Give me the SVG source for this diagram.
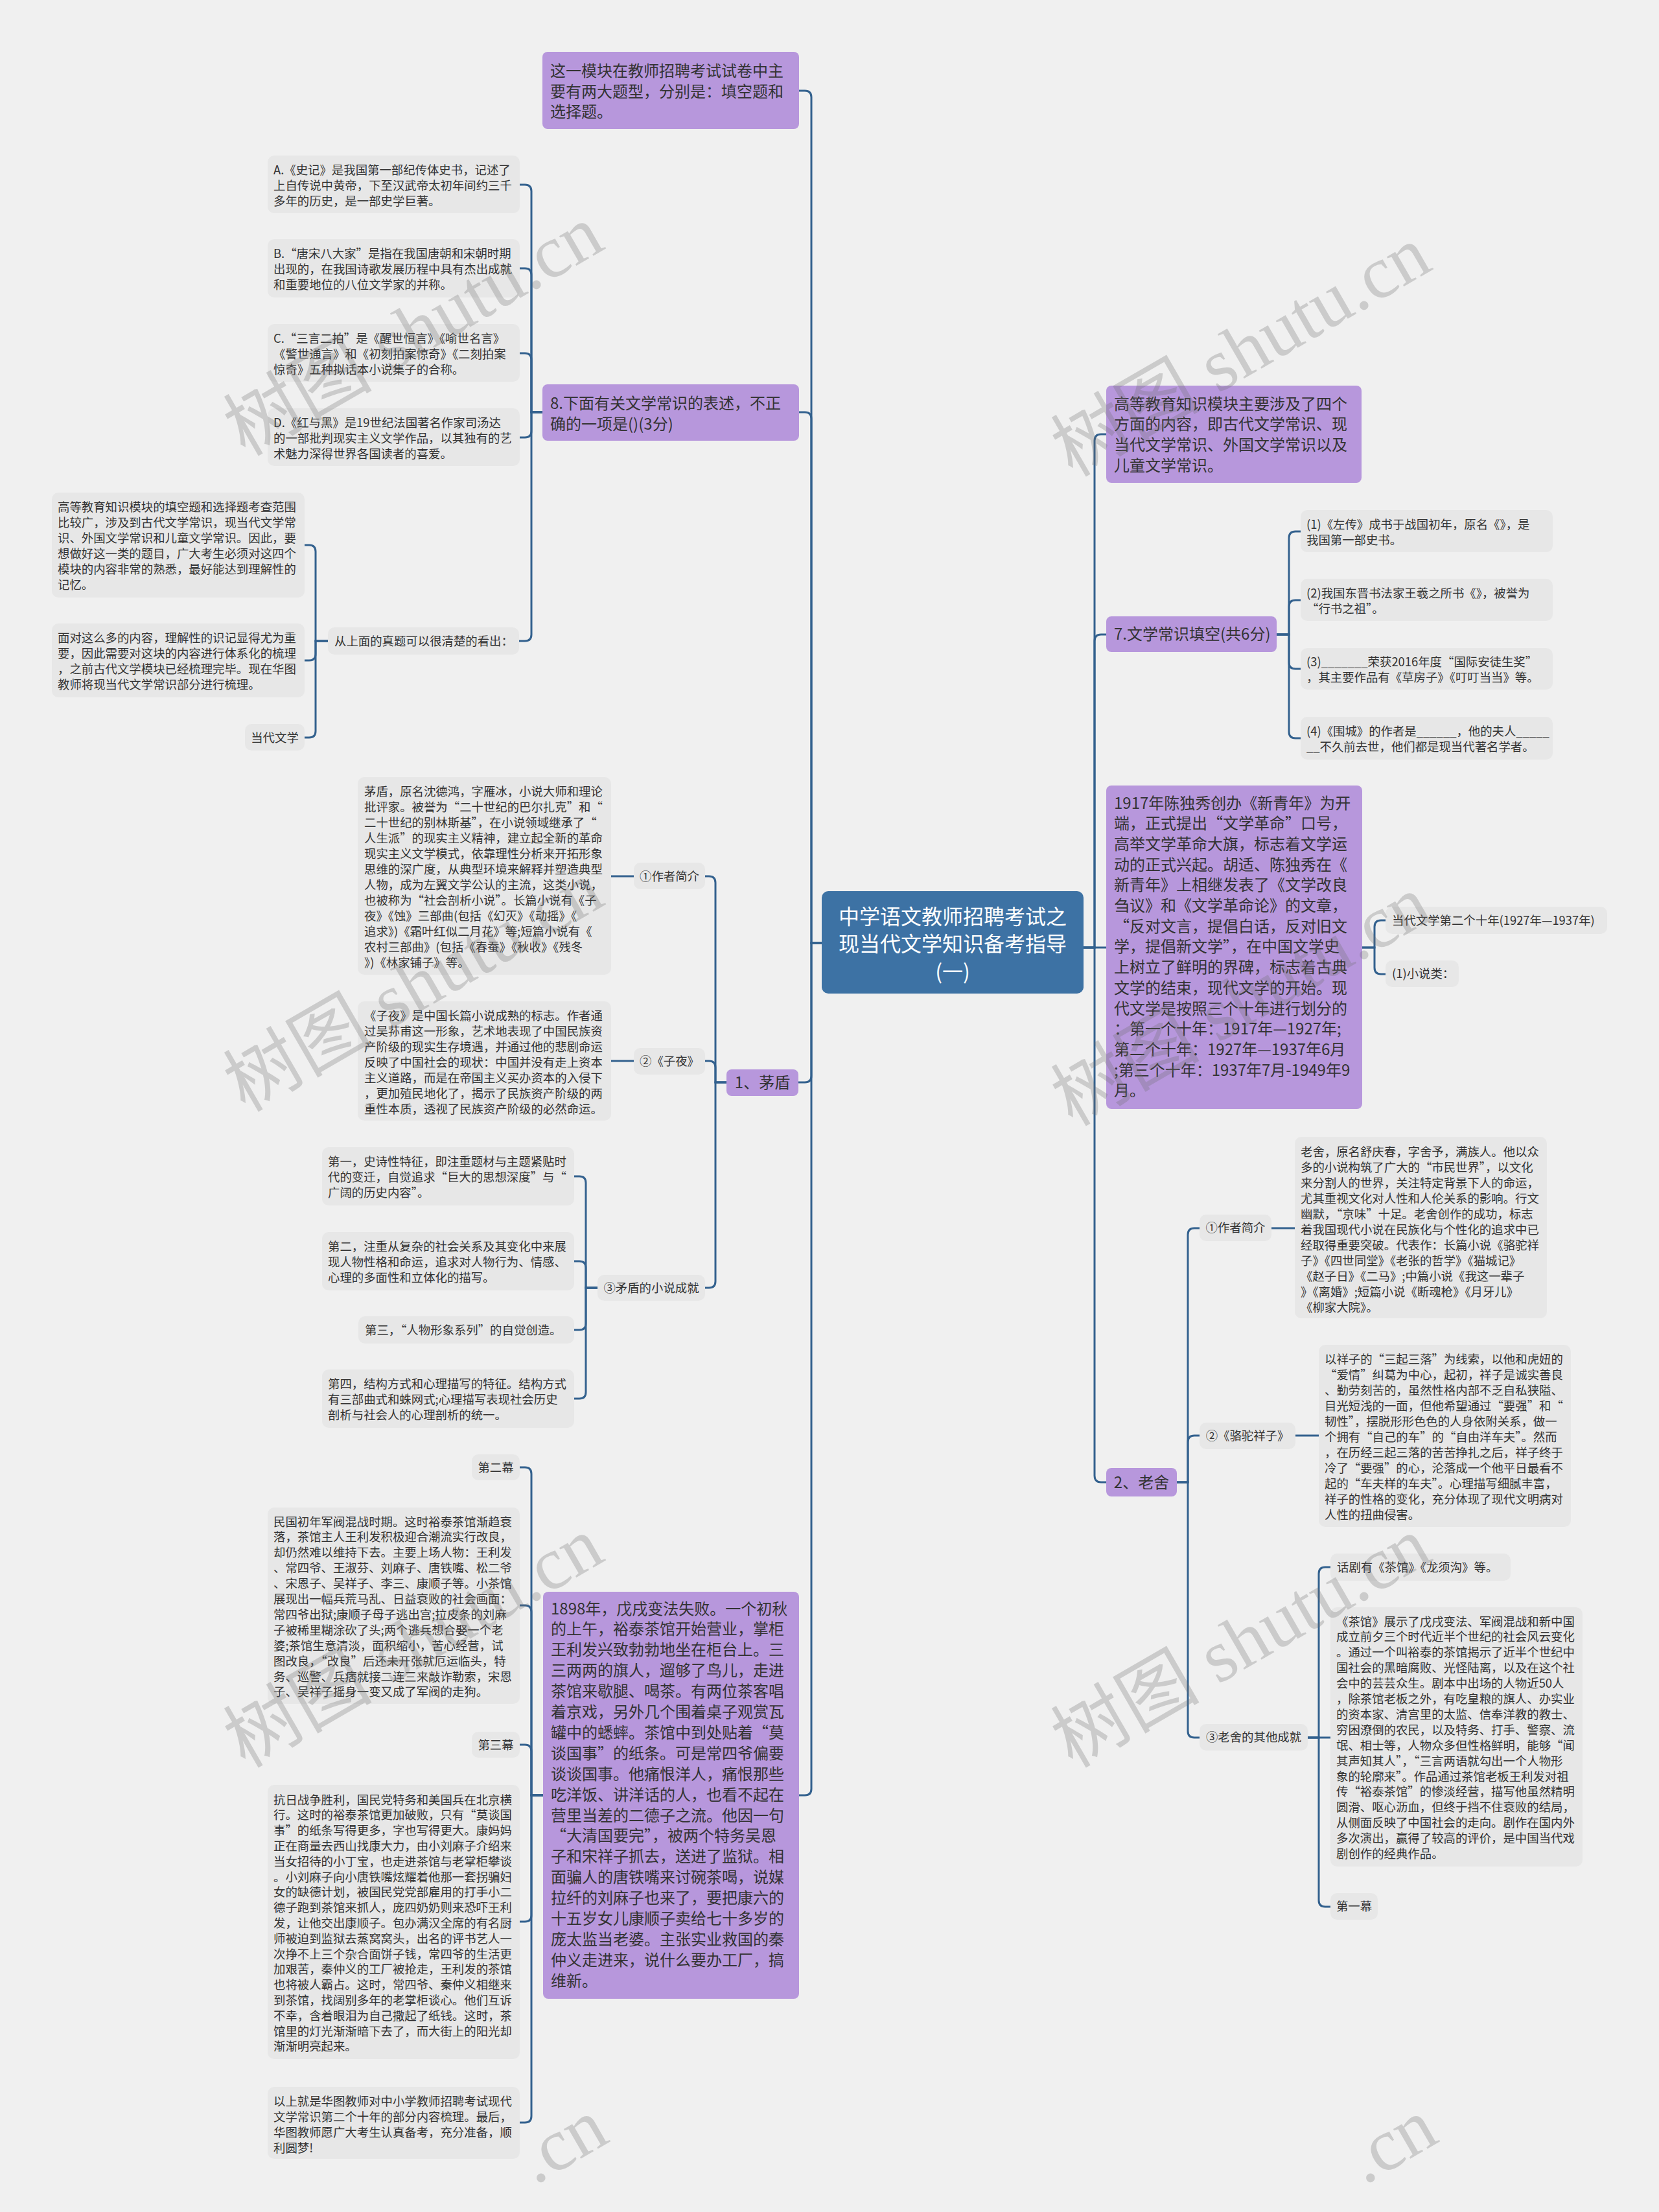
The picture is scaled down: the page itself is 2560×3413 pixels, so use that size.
<svg xmlns="http://www.w3.org/2000/svg" width="2560" height="3413" viewBox="0 0 2560 3413">
<style>
text{font-family:"Noto Sans CJK SC","Liberation Sans",sans-serif;fill:#333;}
.t{font-size:18.4px;}
.p{font-size:24px;}
.c{font-size:32px;fill:#fff;}
.m{text-anchor:middle;}
.g{fill:#e7e7e7;}
.pu{fill:#b797dc;}
.ctr{fill:#3d72a4;}
.ln{fill:none;stroke:#33618e;stroke-width:3;}
.wm{font-family:"Liberation Serif","Noto Sans CJK SC",serif;font-size:115px;fill:#6f6f6f;opacity:0.28;}
</style>
<rect x="0" y="0" width="2560" height="3413" fill="#f0f0f0"/>

<g id="connectors" class="ln">
<path d="M1268 1455H1252V150Q1252 140 1242 140H1233"/>
<path d="M1268 1455H1252V646Q1252 636 1242 636H1233"/>
<path d="M1268 1455H1252V1660Q1252 1670 1242 1670H1232"/>
<path d="M1268 1455H1252V2760Q1252 2770 1242 2770H1233"/>
<path d="M1672 1462H1689V680Q1689 670 1699 670H1707"/>
<path d="M1672 1462H1689V989Q1689 979 1699 979H1707"/>
<path d="M1672 1462H1707"/>
<path d="M1672 1462H1689V2277Q1689 2287 1699 2287H1707"/>
<path d="M837 636H820V295Q820 285 810 285H802"/>
<path d="M837 636H820V424Q820 414 810 414H802"/>
<path d="M837 636H820V555Q820 545 810 545H802"/>
<path d="M837 636H820V665Q820 675 810 675H802"/>
<path d="M837 636H820V979Q820 989 810 989H801"/>
<path d="M506 989H487V851Q487 841 477 841H470"/>
<path d="M506 989H487V1009Q487 1019 477 1019H470"/>
<path d="M506 989H487V1128Q487 1138 477 1138H470"/>
<path d="M1121 1670H1104V1362Q1104 1352 1094 1352H1088"/>
<path d="M1121 1670H1104V1647Q1104 1637 1094 1637H1088"/>
<path d="M1121 1670H1104V1977Q1104 1987 1094 1987H1088"/>
<path d="M978 1352H943"/>
<path d="M978 1637H943"/>
<path d="M922 1987H904V1825Q904 1815 894 1815H886"/>
<path d="M922 1987H904V1956Q904 1946 894 1946H886"/>
<path d="M922 1987H904V2042Q904 2052 894 2052H886"/>
<path d="M922 1987H904V2148Q904 2158 894 2158H886"/>
<path d="M838 2770H820V2274Q820 2264 810 2264H802"/>
<path d="M838 2770H820V2487Q820 2477 810 2477H802"/>
<path d="M838 2770H820V2702Q820 2692 810 2692H802"/>
<path d="M838 2770H820V2955Q820 2965 810 2965H802"/>
<path d="M838 2770H820V3265Q820 3275 810 3275H802"/>
<path d="M1970 979H1989V830Q1989 820 1999 820H2007"/>
<path d="M1970 979H1989V936Q1989 926 1999 926H2007"/>
<path d="M1970 979H1989V1022Q1989 1032 1999 1032H2007"/>
<path d="M1970 979H1989V1129Q1989 1139 1999 1139H2007"/>
<path d="M2102 1462H2121V1430Q2121 1420 2131 1420H2138"/>
<path d="M2102 1462H2121V1493Q2121 1503 2131 1503H2138"/>
<path d="M1816 2287H1833V1905Q1833 1895 1843 1895H1851"/>
<path d="M1816 2287H1833V2225Q1833 2215 1843 2215H1851"/>
<path d="M1816 2287H1833V2671Q1833 2681 1843 2681H1851"/>
<path d="M1962 1895H1998"/>
<path d="M1999 2215H2035"/>
<path d="M2018 2681H2035V2428Q2035 2418 2045 2418H2053"/>
<path d="M2018 2681H2053"/>
<path d="M2018 2681H2035V2932Q2035 2942 2045 2942H2053"/>
</g>

<g id="center">
<rect class="ctr" x="1268" y="1375" width="404" height="158" rx="10"/>
<text class="c m"><tspan x="1470" y="1426">中学语文教师招聘考试之</tspan><tspan x="1470" y="1468">现当代文学知识备考指导</tspan><tspan x="1470" y="1511">(一)</tspan></text>
</g>

<g id="n-l1">
<rect class="pu" x="837" y="80" width="396" height="119" rx="8"/>
<text class="p"><tspan x="849" y="117.5">这一模块在教师招聘考试试卷中主</tspan><tspan x="849" y="149.5">要有两大题型，分别是：填空题和</tspan><tspan x="849" y="180.5">选择题。</tspan></text>
</g>

<g id="n-q8">
<rect class="pu" x="837" y="593" width="396" height="87" rx="8"/>
<text class="p"><tspan x="849" y="630.5">8.下面有关文学常识的表述，不正</tspan><tspan x="849" y="662.5">确的一项是()(3分)</tspan></text>
</g>

<g id="n-a">
<rect class="g" x="413" y="240" width="389" height="89" rx="10"/>
<text class="t"><tspan x="422" y="268.5">A.《史记》是我国第一部纪传体史书，记述了</tspan><tspan x="422" y="292.5">上自传说中黄帝，下至汉武帝太初年间约三千</tspan><tspan x="422" y="316.5">多年的历史，是一部史学巨著。</tspan></text>
</g>
<g id="n-b">
<rect class="g" x="413" y="369" width="389" height="90" rx="10"/>
<text class="t"><tspan x="422" y="397.5">B.“唐宋八大家”是指在我国唐朝和宋朝时期</tspan><tspan x="422" y="421.5">出现的，在我国诗歌发展历程中具有杰出成就</tspan><tspan x="422" y="445.5">和重要地位的八位文学家的并称。</tspan></text>
</g>
<g id="n-c">
<rect class="g" x="413" y="500" width="389" height="89" rx="10"/>
<text class="t"><tspan x="422" y="528.5">C.“三言二拍”是《醒世恒言》《喻世名言》</tspan><tspan x="422" y="552.5">《警世通言》和《初刻拍案惊奇》《二刻拍案</tspan><tspan x="422" y="576.5">惊奇》五种拟话本小说集子的合称。</tspan></text>
</g>
<g id="n-d">
<rect class="g" x="413" y="630" width="389" height="89" rx="10"/>
<text class="t"><tspan x="422" y="658.5">D.《红与黑》是19世纪法国著名作家司汤达</tspan><tspan x="422" y="682.5">的一部批判现实主义文学作品，以其独有的艺</tspan><tspan x="422" y="706.5">术魅力深得世界各国读者的喜爱。</tspan></text>
</g>

<g id="n-cong">
<rect class="g" x="506" y="968" width="295" height="42" rx="10"/>
<text class="t"><tspan x="516" y="995.5">从上面的真题可以很清楚的看出：</tspan></text>
</g>
<g id="n-gaodeng">
<rect class="g" x="80" y="760" width="390" height="162" rx="10"/>
<text class="t"><tspan x="89" y="788.5">高等教育知识模块的填空题和选择题考查范围</tspan><tspan x="89" y="812.5">比较广，涉及到古代文学常识，现当代文学常</tspan><tspan x="89" y="836.5">识、外国文学常识和儿童文学常识。因此，要</tspan><tspan x="89" y="860.5">想做好这一类的题目，广大考生必须对这四个</tspan><tspan x="89" y="884.5">模块的内容非常的熟悉，最好能达到理解性的</tspan><tspan x="89" y="908.5">记忆。</tspan></text>
</g>
<g id="n-miandui">
<rect class="g" x="80" y="962" width="390" height="114" rx="10"/>
<text class="t"><tspan x="89" y="990.5">面对这么多的内容，理解性的识记显得尤为重</tspan><tspan x="89" y="1014.5">要，因此需要对这块的内容进行体系化的梳理</tspan><tspan x="89" y="1038.5">，之前古代文学模块已经梳理完毕。现在华图</tspan><tspan x="89" y="1062.5">教师将现当代文学常识部分进行梳理。</tspan></text>
</g>
<g id="n-dangdai">
<rect class="g" x="378" y="1117" width="92" height="41" rx="10"/>
<text class="t m"><tspan x="424" y="1144.5">当代文学</tspan></text>
</g>

<g id="n-maodun">
<rect class="pu" x="1121" y="1650" width="111" height="41" rx="8"/>
<text class="p m"><tspan x="1176.5" y="1678.5">1、茅盾</tspan></text>
</g>
<g id="n-md-zz">
<rect class="g" x="978" y="1331" width="110" height="41" rx="10"/>
<text class="t m"><tspan x="1033" y="1358.5">①作者简介</tspan></text>
</g>
<g id="n-md-intro">
<rect class="g" x="552" y="1199" width="391" height="305" rx="10"/>
<text class="t"><tspan x="562" y="1227.5">茅盾，原名沈德鸿，字雁冰，小说大师和理论</tspan><tspan x="562" y="1251.5">批评家。被誉为“二十世纪的巴尔扎克”和“</tspan><tspan x="562" y="1275.5">二十世纪的别林斯基”，在小说领域继承了“</tspan><tspan x="562" y="1299.5">人生派”的现实主义精神，建立起全新的革命</tspan><tspan x="562" y="1323.5">现实主义文学模式，依靠理性分析来开拓形象</tspan><tspan x="562" y="1347.5">思维的深广度，从典型环境来解释并塑造典型</tspan><tspan x="562" y="1371.5">人物，成为左翼文学公认的主流，这类小说，</tspan><tspan x="562" y="1395.5">也被称为“社会剖析小说”。长篇小说有《子</tspan><tspan x="562" y="1419.5">夜》《蚀》三部曲(包括《幻灭》《动摇》《</tspan><tspan x="562" y="1443.5">追求》)《霜叶红似二月花》等;短篇小说有《</tspan><tspan x="562" y="1467.5">农村三部曲》(包括《春蚕》《秋收》《残冬</tspan><tspan x="562" y="1491.5">》)《林家铺子》等。</tspan></text>
</g>
<g id="n-md-ziye">
<rect class="g" x="978" y="1617" width="110" height="41" rx="10"/>
<text class="t m"><tspan x="1033" y="1643.5">②《子夜》</tspan></text>
</g>
<g id="n-md-ziye-t">
<rect class="g" x="552" y="1545" width="391" height="184" rx="10"/>
<text class="t"><tspan x="562" y="1573.5">《子夜》是中国长篇小说成熟的标志。作者通</tspan><tspan x="562" y="1597.5">过吴荪甫这一形象，艺术地表现了中国民族资</tspan><tspan x="562" y="1621.5">产阶级的现实生存境遇，并通过他的悲剧命运</tspan><tspan x="562" y="1645.5">反映了中国社会的现状：中国并没有走上资本</tspan><tspan x="562" y="1669.5">主义道路，而是在帝国主义买办资本的入侵下</tspan><tspan x="562" y="1693.5">，更加殖民地化了，揭示了民族资产阶级的两</tspan><tspan x="562" y="1717.5">重性本质，透视了民族资产阶级的必然命运。</tspan></text>
</g>
<g id="n-md-cj">
<rect class="g" x="922" y="1967" width="166" height="40" rx="10"/>
<text class="t m"><tspan x="1005" y="1993.5">③矛盾的小说成就</tspan></text>
</g>
<g id="n-md-1">
<rect class="g" x="497" y="1770" width="389" height="90" rx="10"/>
<text class="t"><tspan x="506" y="1798.5">第一，史诗性特征，即注重题材与主题紧贴时</tspan><tspan x="506" y="1822.5">代的变迁，自觉追求“巨大的思想深度”与“</tspan><tspan x="506" y="1846.5">广阔的历史内容”。</tspan></text>
</g>
<g id="n-md-2">
<rect class="g" x="497" y="1901" width="389" height="90" rx="10"/>
<text class="t"><tspan x="506" y="1929.5">第二，注重从复杂的社会关系及其变化中来展</tspan><tspan x="506" y="1953.5">现人物性格和命运，追求对人物行为、情感、</tspan><tspan x="506" y="1977.5">心理的多面性和立体化的描写。</tspan></text>
</g>
<g id="n-md-3">
<rect class="g" x="553" y="2031" width="333" height="42" rx="10"/>
<text class="t"><tspan x="563" y="2058.5">第三，“人物形象系列”的自觉创造。</tspan></text>
</g>
<g id="n-md-4">
<rect class="g" x="497" y="2113" width="389" height="90" rx="10"/>
<text class="t"><tspan x="506" y="2141.5">第四，结构方式和心理描写的特征。结构方式</tspan><tspan x="506" y="2165.5">有三部曲式和蛛网式;心理描写表现社会历史</tspan><tspan x="506" y="2189.5">剖析与社会人的心理剖析的统一。</tspan></text>
</g>

<g id="n-1898">
<rect class="pu" x="838" y="2456" width="395" height="628" rx="8"/>
<text class="p"><tspan x="850" y="2490.5">1898年，戊戌变法失败。一个初秋</tspan><tspan x="850" y="2522.4">的上午，裕泰茶馆开始营业，掌柜</tspan><tspan x="850" y="2554.3">王利发兴致勃勃地坐在柜台上。三</tspan><tspan x="850" y="2586.2">三两两的旗人，遛够了鸟儿，走进</tspan><tspan x="850" y="2618.1">茶馆来歇腿、喝茶。有两位茶客唱</tspan><tspan x="850" y="2650">着京戏，另外几个围着桌子观赏瓦</tspan><tspan x="850" y="2681.9">罐中的蟋蟀。茶馆中到处贴着“莫</tspan><tspan x="850" y="2713.8">谈国事”的纸条。可是常四爷偏要</tspan><tspan x="850" y="2745.7">谈谈国事。他痛恨洋人，痛恨那些</tspan><tspan x="850" y="2777.6">吃洋饭、讲洋话的人，也看不起在</tspan><tspan x="850" y="2809.5">营里当差的二德子之流。他因一句</tspan><tspan x="850" y="2841.4">“大清国要完”，被两个特务吴恩</tspan><tspan x="850" y="2873.3">子和宋祥子抓去，送进了监狱。相</tspan><tspan x="850" y="2905.2">面骗人的唐铁嘴来讨碗茶喝，说媒</tspan><tspan x="850" y="2937.1">拉纤的刘麻子也来了，要把康六的</tspan><tspan x="850" y="2969">十五岁女儿康顺子卖给七十多岁的</tspan><tspan x="850" y="3000.9">庞太监当老婆。主张实业救国的秦</tspan><tspan x="850" y="3032.8">仲义走进来，说什么要办工厂，搞</tspan><tspan x="850" y="3064.7">维新。</tspan></text>
</g>
<g id="n-mu2">
<rect class="g" x="728" y="2244" width="74" height="40" rx="10"/>
<text class="t m"><tspan x="765" y="2270.5">第二幕</tspan></text>
</g>
<g id="n-minguo">
<rect class="g" x="413" y="2326" width="389" height="303" rx="10"/>
<text class="t"><tspan x="422" y="2354.5">民国初年军阀混战时期。这时裕泰茶馆渐趋衰</tspan><tspan x="422" y="2378.4">落，茶馆主人王利发积极迎合潮流实行改良，</tspan><tspan x="422" y="2402.3">却仍然难以维持下去。主要上场人物：王利发</tspan><tspan x="422" y="2426.2">、常四爷、王淑芬、刘麻子、唐铁嘴、松二爷</tspan><tspan x="422" y="2450.1">、宋恩子、吴祥子、李三、康顺子等。小茶馆</tspan><tspan x="422" y="2474">展现出一幅兵荒马乱、日益衰败的社会画面：</tspan><tspan x="422" y="2497.9">常四爷出狱;康顺子母子逃出宫;拉皮条的刘麻</tspan><tspan x="422" y="2521.8">子被稀里糊涂砍了头;两个逃兵想合娶一个老</tspan><tspan x="422" y="2545.7">婆;茶馆生意清淡，面积缩小，苦心经营，试</tspan><tspan x="422" y="2569.6">图改良，“改良”后还未开张就厄运临头，特</tspan><tspan x="422" y="2593.5">务、巡警、兵痞就接二连三来敲诈勒索，宋恩</tspan><tspan x="422" y="2617.4">子、吴祥子摇身一变又成了军阀的走狗。</tspan></text>
</g>
<g id="n-mu3">
<rect class="g" x="728" y="2672" width="74" height="40" rx="10"/>
<text class="t m"><tspan x="765" y="2698.5">第三幕</tspan></text>
</g>
<g id="n-kangri">
<rect class="g" x="413" y="2754" width="389" height="423" rx="10"/>
<text class="t"><tspan x="422" y="2783.5">抗日战争胜利，国民党特务和美国兵在北京横</tspan><tspan x="422" y="2807.3">行。这时的裕泰茶馆更加破败，只有“莫谈国</tspan><tspan x="422" y="2831.1">事”的纸条写得更多，字也写得更大。康妈妈</tspan><tspan x="422" y="2854.9">正在商量去西山找康大力，由小刘麻子介绍来</tspan><tspan x="422" y="2878.7">当女招待的小丁宝，也走进茶馆与老掌柜攀谈</tspan><tspan x="422" y="2902.5">。小刘麻子向小唐铁嘴炫耀着他那一套拐骗妇</tspan><tspan x="422" y="2926.3">女的缺德计划，被国民党党部雇用的打手小二</tspan><tspan x="422" y="2950.1">德子跑到茶馆来抓人，庞四奶奶则来恐吓王利</tspan><tspan x="422" y="2973.9">发，让他交出康顺子。包办满汉全席的有名厨</tspan><tspan x="422" y="2997.7">师被迫到监狱去蒸窝窝头，出名的评书艺人一</tspan><tspan x="422" y="3021.5">次挣不上三个杂合面饼子钱，常四爷的生活更</tspan><tspan x="422" y="3045.3">加艰苦，秦仲义的工厂被抢走，王利发的茶馆</tspan><tspan x="422" y="3069.1">也将被人霸占。这时，常四爷、秦仲义相继来</tspan><tspan x="422" y="3092.9">到茶馆，找阔别多年的老掌柜谈心。他们互诉</tspan><tspan x="422" y="3116.7">不幸，含着眼泪为自己撒起了纸钱。这时，茶</tspan><tspan x="422" y="3140.5">馆里的灯光渐渐暗下去了，而大街上的阳光却</tspan><tspan x="422" y="3164.3">渐渐明亮起来。</tspan></text>
</g>
<g id="n-yishang">
<rect class="g" x="413" y="3220" width="389" height="111" rx="10"/>
<text class="t"><tspan x="422" y="3248.5">以上就是华图教师对中小学教师招聘考试现代</tspan><tspan x="422" y="3272.5">文学常识第二个十年的部分内容梳理。最后，</tspan><tspan x="422" y="3296.5">华图教师愿广大考生认真备考，充分准备，顺</tspan><tspan x="422" y="3320.5">利圆梦!</tspan></text>
</g>

<g id="n-r1">
<rect class="pu" x="1707" y="595" width="394" height="150" rx="8"/>
<text class="p"><tspan x="1719" y="631.5">高等教育知识模块主要涉及了四个</tspan><tspan x="1719" y="663.2">方面的内容，即古代文学常识、现</tspan><tspan x="1719" y="694.9">当代文学常识、外国文学常识以及</tspan><tspan x="1719" y="726.6">儿童文学常识。</tspan></text>
</g>
<g id="n-q7">
<rect class="pu" x="1707" y="951" width="263" height="55" rx="8"/>
<text class="p"><tspan x="1719" y="987">7.文学常识填空(共6分)</tspan></text>
</g>
<g id="n-q7-1">
<rect class="g" x="2007" y="787" width="389" height="65" rx="10"/>
<text class="t"><tspan x="2016" y="815.5">(1)《左传》成书于战国初年，原名《》，是</tspan><tspan x="2016" y="839.5">我国第一部史书。</tspan></text>
</g>
<g id="n-q7-2">
<rect class="g" x="2007" y="893" width="389" height="65" rx="10"/>
<text class="t"><tspan x="2016" y="921.5">(2)我国东晋书法家王羲之所书《》，被誉为</tspan><tspan x="2016" y="945.5">“行书之祖”。</tspan></text>
</g>
<g id="n-q7-3">
<rect class="g" x="2007" y="1000" width="389" height="64" rx="10"/>
<text class="t"><tspan x="2016" y="1027.5">(3)_______荣获2016年度“国际安徒生奖”</tspan><tspan x="2016" y="1051.5">，其主要作品有《草房子》《叮叮当当》等。</tspan></text>
</g>
<g id="n-q7-4">
<rect class="g" x="2007" y="1106" width="389" height="66" rx="10"/>
<text class="t"><tspan x="2016" y="1134.5">(4)《围城》的作者是______，他的夫人_____</tspan><tspan x="2016" y="1158.5">__不久前去世，他们都是现当代著名学者。</tspan></text>
</g>

<g id="n-1917">
<rect class="pu" x="1707" y="1212" width="395" height="499" rx="8"/>
<text class="p"><tspan x="1719" y="1247.5">1917年陈独秀创办《新青年》为开</tspan><tspan x="1719" y="1279.2">端，正式提出“文学革命”口号，</tspan><tspan x="1719" y="1310.9">高举文学革命大旗，标志着文学运</tspan><tspan x="1719" y="1342.6">动的正式兴起。胡适、陈独秀在《</tspan><tspan x="1719" y="1374.3">新青年》上相继发表了《文学改良</tspan><tspan x="1719" y="1406">刍议》和《文学革命论》的文章，</tspan><tspan x="1719" y="1437.7">“反对文言，提倡白话，反对旧文</tspan><tspan x="1719" y="1469.4">学，提倡新文学”，在中国文学史</tspan><tspan x="1719" y="1501.1">上树立了鲜明的界碑，标志着古典</tspan><tspan x="1719" y="1532.8">文学的结束，现代文学的开始。现</tspan><tspan x="1719" y="1564.5">代文学是按照三个十年进行划分的</tspan><tspan x="1719" y="1596.2">：第一个十年：1917年—1927年;</tspan><tspan x="1719" y="1627.9">第二个十年：1927年—1937年6月</tspan><tspan x="1719" y="1659.6">;第三个十年：1937年7月-1949年9</tspan><tspan x="1719" y="1691.3">月。</tspan></text>
</g>
<g id="n-decade">
<rect class="g" x="2138" y="1399" width="342" height="42" rx="10"/>
<text class="t"><tspan x="2148" y="1426.5">当代文学第二个十年(1927年—1937年)</tspan></text>
</g>
<g id="n-novel">
<rect class="g" x="2138" y="1482" width="113" height="41" rx="10"/>
<text class="t"><tspan x="2148" y="1509">(1)小说类：</tspan></text>
</g>

<g id="n-laoshe">
<rect class="pu" x="1707" y="2265" width="109" height="44" rx="8"/>
<text class="p m"><tspan x="1761.5" y="2295.5">2、老舍</tspan></text>
</g>
<g id="n-ls-zz">
<rect class="g" x="1851" y="1874" width="111" height="41" rx="10"/>
<text class="t m"><tspan x="1906.5" y="1901">①作者简介</tspan></text>
</g>
<g id="n-ls-intro">
<rect class="g" x="1998" y="1754" width="389" height="280" rx="10"/>
<text class="t"><tspan x="2007" y="1783.5">老舍，原名舒庆春，字舍予，满族人。他以众</tspan><tspan x="2007" y="1807.5">多的小说构筑了广大的“市民世界”，以文化</tspan><tspan x="2007" y="1831.5">来分割人的世界，关注特定背景下人的命运，</tspan><tspan x="2007" y="1855.5">尤其重视文化对人性和人伦关系的影响。行文</tspan><tspan x="2007" y="1879.5">幽默，“京味”十足。老舍创作的成功，标志</tspan><tspan x="2007" y="1903.5">着我国现代小说在民族化与个性化的追求中已</tspan><tspan x="2007" y="1927.5">经取得重要突破。代表作：长篇小说《骆驼祥</tspan><tspan x="2007" y="1951.5">子》《四世同堂》《老张的哲学》《猫城记》</tspan><tspan x="2007" y="1975.5">《赵子日》《二马》;中篇小说《我这一辈子</tspan><tspan x="2007" y="1999.5">》《离婚》;短篇小说《断魂枪》《月牙儿》</tspan><tspan x="2007" y="2023.5">《柳家大院》。</tspan></text>
</g>
<g id="n-ls-xz">
<rect class="g" x="1851" y="2195" width="148" height="41" rx="10"/>
<text class="t m"><tspan x="1925" y="2222">②《骆驼祥子》</tspan></text>
</g>
<g id="n-ls-xz-t">
<rect class="g" x="2035" y="2075" width="389" height="281" rx="10"/>
<text class="t"><tspan x="2044" y="2103.5">以祥子的“三起三落”为线索，以他和虎妞的</tspan><tspan x="2044" y="2127.5">“爱情”纠葛为中心，起初，祥子是诚实善良</tspan><tspan x="2044" y="2151.5">、勤劳刻苦的，虽然性格内部不乏自私狭隘、</tspan><tspan x="2044" y="2175.5">目光短浅的一面，但他希望通过“要强”和“</tspan><tspan x="2044" y="2199.5">韧性”，摆脱形形色色的人身依附关系，做一</tspan><tspan x="2044" y="2223.5">个拥有“自己的车”的“自由洋车夫”。然而</tspan><tspan x="2044" y="2247.5">，在历经三起三落的苦苦挣扎之后，祥子终于</tspan><tspan x="2044" y="2271.5">冷了“要强”的心，沦落成一个他平日最看不</tspan><tspan x="2044" y="2295.5">起的“车夫样的车夫”。心理描写细腻丰富，</tspan><tspan x="2044" y="2319.5">祥子的性格的变化，充分体现了现代文明病对</tspan><tspan x="2044" y="2343.5">人性的扭曲侵害。</tspan></text>
</g>
<g id="n-ls-cj">
<rect class="g" x="1851" y="2660" width="167" height="41" rx="10"/>
<text class="t m"><tspan x="1934.5" y="2687">③老舍的其他成就</tspan></text>
</g>
<g id="n-ls-huaju">
<rect class="g" x="2053" y="2397" width="278" height="42" rx="10"/>
<text class="t"><tspan x="2063" y="2424.5">话剧有《茶馆》《龙须沟》等。</tspan></text>
</g>
<g id="n-ls-chaguan">
<rect class="g" x="2053" y="2480" width="389" height="400" rx="10"/>
<text class="t"><tspan x="2062" y="2508.5">《茶馆》展示了戊戌变法、军阀混战和新中国</tspan><tspan x="2062" y="2532.4">成立前夕三个时代近半个世纪的社会风云变化</tspan><tspan x="2062" y="2556.3">。通过一个叫裕泰的茶馆揭示了近半个世纪中</tspan><tspan x="2062" y="2580.2">国社会的黑暗腐败、光怪陆离，以及在这个社</tspan><tspan x="2062" y="2604.1">会中的芸芸众生。剧本中出场的人物近50人</tspan><tspan x="2062" y="2628">，除茶馆老板之外，有吃皇粮的旗人、办实业</tspan><tspan x="2062" y="2651.9">的资本家、清宫里的太监、信奉洋教的教士、</tspan><tspan x="2062" y="2675.8">穷困潦倒的农民，以及特务、打手、警察、流</tspan><tspan x="2062" y="2699.7">氓、相士等，人物众多但性格鲜明，能够“闻</tspan><tspan x="2062" y="2723.6">其声知其人”，“三言两语就勾出一个人物形</tspan><tspan x="2062" y="2747.5">象的轮廓来”。作品通过茶馆老板王利发对祖</tspan><tspan x="2062" y="2771.4">传“裕泰茶馆”的惨淡经营，描写他虽然精明</tspan><tspan x="2062" y="2795.3">圆滑、呕心沥血，但终于挡不住衰败的结局，</tspan><tspan x="2062" y="2819.2">从侧面反映了中国社会的走向。剧作在国内外</tspan><tspan x="2062" y="2843.1">多次演出，赢得了较高的评价，是中国当代戏</tspan><tspan x="2062" y="2867">剧创作的经典作品。</tspan></text>
</g>
<g id="n-mu1">
<rect class="g" x="2053" y="2921" width="73" height="41" rx="10"/>
<text class="t m"><tspan x="2089.5" y="2948">第一幕</tspan></text>
</g>

<g id="watermarks">
<text class="wm" x="378" y="705" transform="rotate(-30 378 705)">树图 shutu.cn</text>
<text class="wm" x="1655" y="737" transform="rotate(-30 1655 737)">树图 shutu.cn</text>
<text class="wm" x="378" y="1717" transform="rotate(-30 378 1717)">树图 shutu.cn</text>
<text class="wm" x="1655" y="1739" transform="rotate(-30 1655 1739)">树图 shutu.cn</text>
<text class="wm" x="378" y="2729" transform="rotate(-30 378 2729)">树图 shutu.cn</text>
<text class="wm" x="1655" y="2729" transform="rotate(-30 1655 2729)">树图 shutu.cn</text>
<text class="wm" x="825" y="3372" transform="rotate(-30 825 3372)">.cn</text>
<text class="wm" x="2105" y="3372" transform="rotate(-30 2105 3372)">.cn</text>
</g>
</svg>
